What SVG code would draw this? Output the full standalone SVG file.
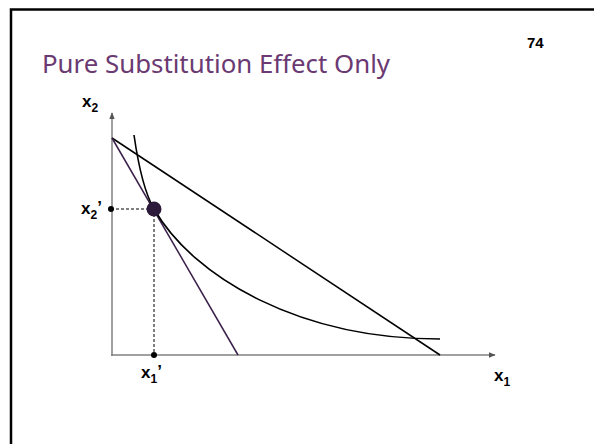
<svg xmlns="http://www.w3.org/2000/svg" width="594" height="444" viewBox="0 0 594 444">
<defs>
<style>
.lbl{font-family:"Liberation Sans",Arial,sans-serif;font-weight:bold;font-size:17px;fill:#000}
.sub{font-size:12px}
.axis{stroke:#808080;stroke-width:1.5;fill:none}
.dash{stroke:#000;stroke-width:1;stroke-dasharray:3,2;fill:none}
</style>
<marker id="arr" viewBox="0 0 10 10" refX="9" refY="5" markerWidth="7" markerHeight="7" markerUnits="userSpaceOnUse" orient="auto">
<path d="M0,1 L10,5 L0,9 Z" fill="#555"/>
</marker>
</defs>
<rect width="594" height="444" fill="#fff"/>
<g id="frame" stroke="#000" stroke-width="2.5" fill="none">
<path d="M11,444 V9.5 H594"/>
</g>
<text id="title" x="42" y="73" font-family="'Noto Sans','Open Sans',sans-serif" font-size="26" fill="#6b3a72" textLength="348" lengthAdjust="spacingAndGlyphs">Pure Substitution Effect Only</text>
<text id="page" x="527" y="48" font-family="'Liberation Sans',Arial,sans-serif" font-weight="bold" font-size="15" fill="#000">74</text>
<g id="axes">
<line class="axis" x1="112" y1="356" x2="112" y2="113" marker-end="url(#arr)"/>
<line class="axis" x1="111" y1="355" x2="495" y2="355" marker-end="url(#arr)"/>
</g>
<g id="connectors">
<line id="budget-original" x1="112" y1="138" x2="440" y2="355" stroke="#000" stroke-width="1.5"/>
<line id="budget-new" x1="112" y1="138" x2="238" y2="355" stroke="#3a1f48" stroke-width="1.5"/>
<path id="indifference" d="M134,135 C137,156 143,190 154,209 C194,278 300,339 440,339" stroke="#000" stroke-width="1.6" fill="none"/>
<line class="dash" x1="111" y1="209" x2="154" y2="209"/>
<line class="dash" x1="154" y1="209" x2="154" y2="355"/>
</g>
<g id="point-x2p"><circle cx="111" cy="209" r="3" fill="#000"/></g>
<g id="point-x1p"><circle cx="154" cy="355" r="3" fill="#000"/></g>
<g id="optimum"><circle cx="154" cy="209" r="7.5" fill="#2d1a3a"/></g>
<g id="labels">
<text class="lbl" x="82" y="107">x<tspan class="sub" dy="5">2</tspan></text>
<text class="lbl" x="81" y="214">x<tspan class="sub" dy="5">2</tspan><tspan dy="-6">’</tspan></text>
<text class="lbl" x="141" y="378">x<tspan class="sub" dy="5">1</tspan><tspan dy="-6">’</tspan></text>
<text class="lbl" x="494" y="381">x<tspan class="sub" dy="5">1</tspan></text>
</g>
</svg>
